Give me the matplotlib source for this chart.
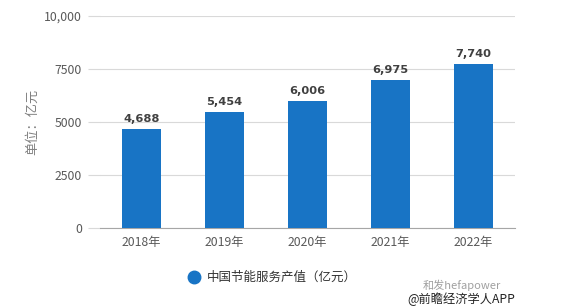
import matplotlib
matplotlib.use("Agg")
import matplotlib.pyplot as plt

plt.rcParams['font.family'] = ['Noto Sans CJK SC', 'DejaVu Sans']

categories = ["2018年", "2019年", "2020年", "2021年", "2022年"]
values = [4688, 5454, 6006, 6975, 7740]
yticks = [0, 2500, 5000, 7500, 10000]
ytick_labels = ["0", "2500", "5000", "7500", "10,000"]
series_name = "中国节能服务产值（亿元）"
ylabel = "单位：亿元"

W, H = 563, 308
fig = plt.figure(figsize=(W/100, H/100), dpi=100)
ax = fig.add_axes([100/W, 1-228/H, 415/W, 212/H])

bar_color = "#1874C5"
x = range(len(categories))
ax.bar(x, values, width=0.47, color=bar_color, zorder=3)
for xi, v in zip(x, values):
    ax.text(xi, v + 230, f"{v:,}", ha="center", va="bottom", fontsize=8.2,
            fontweight="bold", color="#404040", family=['DejaVu Sans'])

ax.set_xlim(-0.5, len(categories) - 0.5)
ax.set_ylim(0, 10000)
ax.set_yticks(yticks)
ax.set_yticklabels(ytick_labels)
ax.set_xticks(list(x))
ax.set_xticklabels(categories)
ax.yaxis.grid(True, color="#D9D9D9", linewidth=0.8, zorder=0)
for s in ["top", "right", "left"]:
    ax.spines[s].set_visible(False)
ax.spines["bottom"].set_color("#A6A6A6")
ax.spines["bottom"].set_linewidth(0.8)
ax.tick_params(axis="y", length=9, color="#D9D9D9", width=0.8, labelsize=8.8,
               labelcolor="#595959", pad=4)
ax.tick_params(axis="x", length=0, labelsize=8.8, labelcolor="#595959", pad=6)

fig.text(33/W, 1-122/H, ylabel, rotation=90, ha="center", va="center",
         fontsize=9.5, color="#808080")

# legend
fig.lines.append(plt.Line2D([194/W], [1-277/H], marker="o", markersize=9,
                            color=bar_color, linestyle="none",
                            transform=fig.transFigure))
fig.text(207/W, 1-277/H, series_name, ha="left", va="center", fontsize=9,
         color="#333333")

# source marks
fig.text(423/W, 1-285/H, "和发hefapower", ha="left", va="center", fontsize=8,
         color="#A0A0A0")
fig.text(407/W, 1-299/H, "@前瞻经济学人APP", ha="left", va="center", fontsize=8.8,
         color="#222222")

fig.savefig("out.png", dpi=100, facecolor="white")
